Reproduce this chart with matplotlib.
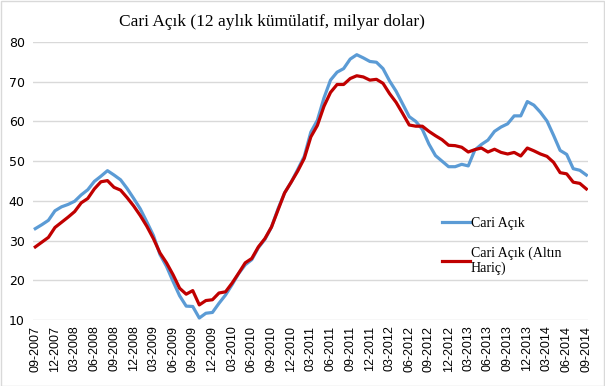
import numpy as np
import matplotlib
matplotlib.use("Agg")
import matplotlib.pyplot as plt
from matplotlib.patches import Rectangle

# monthly, 09-2007 .. 09-2014
months = [f"{m:02d}-{y}" for y in range(2007, 2015) for m in range(1, 13)]
months = months[months.index("09-2007"):months.index("09-2014") + 1]

cari_acik = [
    33.0, 34.0, 35.1, 37.5, 38.5, 39.1, 39.9, 41.5, 42.8, 44.9,
    46.2, 47.6, 46.5, 45.3, 43.1, 40.6, 38.0, 34.7, 31.3, 26.5,
    23.5, 19.7, 16.1, 13.5, 13.4, 10.5, 11.7, 11.9, 14.2, 16.3,
    18.9, 21.7, 23.9, 25.2, 28.2, 30.3, 33.4, 38.0, 42.0, 44.7,
    47.9, 51.2, 57.3, 60.3, 65.9, 70.4, 72.4, 73.3, 75.7, 76.8,
    76.0, 75.1, 74.9, 73.3, 70.2, 67.6, 64.4, 61.2, 60.0, 58.0,
    54.3, 51.4, 50.0, 48.6, 48.6, 49.2, 48.8, 52.8, 54.2, 55.3,
    57.5, 58.6, 59.4, 61.4, 61.4, 65.0, 64.1, 62.3, 60.1, 56.5,
    52.7, 51.7, 48.1, 47.7, 46.5,
]
altin_haric = [
    28.4, 29.6, 30.8, 33.3, 34.6, 35.9, 37.3, 39.5, 40.6, 43.0,
    44.8, 45.1, 43.4, 42.7, 40.8, 38.7, 36.3, 33.6, 30.5, 26.9,
    24.4, 21.4, 18.0, 16.5, 17.4, 13.8, 14.9, 15.1, 16.8, 17.1,
    19.3, 21.8, 24.4, 25.5, 28.4, 30.5, 33.4, 37.7, 42.0, 44.7,
    47.5, 50.7, 56.1, 59.0, 63.8, 67.3, 69.3, 69.3, 70.8, 71.5,
    71.2, 70.4, 70.6, 69.6, 67.0, 64.8, 62.0, 59.1, 58.8, 58.8,
    57.5, 56.4, 55.4, 54.0, 53.9, 53.5, 52.3, 52.9, 53.3, 52.3,
    53.0, 52.2, 51.8, 52.2, 51.3, 53.3, 52.6, 51.8, 51.2, 49.7,
    47.1, 46.8, 44.7, 44.4, 43.0,
]
y_ticks = [10, 20, 30, 40, 50, 60, 70, 80]

fig = plt.figure(figsize=(6.05, 3.86), dpi=100)
ax = fig.add_axes([33 / 605, 1 - 320 / 386, 555 / 605, 278 / 386])

x = np.arange(len(months))
ax.plot(x, cari_acik, color="#5B9BD5", lw=2.3, label="Cari Açık",
        solid_joinstyle="round")
ax.plot(x, altin_haric, color="#C00000", lw=2.3,
        label="Cari Açık (Altın\nHariç)", solid_joinstyle="round")

ax.set_xlim(-0.35, len(months) - 1 + 0.25)
ax.set_ylim(10, 80)
ax.set_yticks(y_ticks)
ax.set_xticks(x[::3])
ax.set_xticklabels(months[::3], rotation=90, fontsize=9,
                   family="Liberation Sans")
ax.tick_params(axis="both", length=0)
ax.tick_params(axis="x", pad=4)
ax.tick_params(axis="y", pad=6, labelsize=9)
ax.grid(axis="y", color="#d9d9d9", lw=1)
ax.set_axisbelow(True)
for s in ax.spines.values():
    s.set_visible(False)

fig.text(272 / 605, 1 - 22 / 386, "Cari Açık (12 aylık kümülatif, milyar dolar)",
         ha="center", va="center", family="Liberation Serif", fontsize=12.5)

ax.legend(loc="upper left", bbox_to_anchor=(0.714, 0.415), frameon=False,
          prop={"family": "Liberation Serif", "size": 10},
          handlelength=2.0, handletextpad=0.1, labelspacing=1.15)

fig.add_artist(Rectangle((0.5 / 605, 0.5 / 386), 1 - 1.5 / 605, 1 - 1.5 / 386,
                         transform=fig.transFigure, fill=False,
                         edgecolor="#d9d9d9", lw=1))

fig.savefig("out.png", dpi=100)
